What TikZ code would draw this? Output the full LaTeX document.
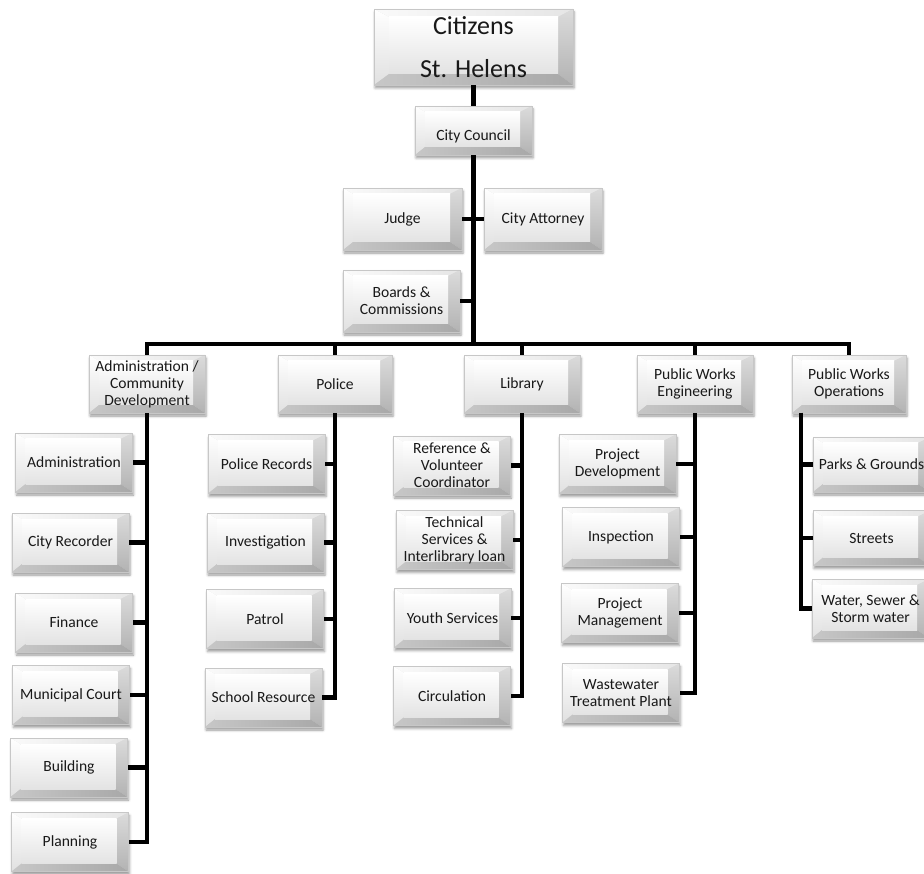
\documentclass[tikz,border=0pt]{standalone}
\usepackage{fontspec}
\setmainfont{Carlito}
\usetikzlibrary{shadows.blur}

\tikzset{
  bev sizes/.code n args={4}{\def\bvL{#1}\def\bvT{#2}\def\bvR{#3}\def\bvB{#4}},
  bevelbox/.style={
    rectangle, inner sep=0pt, align=center,
    minimum width=117pt, minimum height=59pt,
    font=\fontsize{15.6}{17}\selectfont, text=black!90,
    bev sizes={10pt}{6pt}{12pt}{8pt},
    draw=black!22, line width=0.4pt, fill=black!15,
    blur shadow={shadow xshift=1pt, shadow yshift=-3pt,
                 shadow blur radius=2.5pt, shadow opacity=40},
    path picture={
      \coordinate (pA) at (path picture bounding box.north west);
      \coordinate (pB) at (path picture bounding box.north east);
      \coordinate (pC) at (path picture bounding box.south east);
      \coordinate (pD) at (path picture bounding box.south west);
      \coordinate (qA) at ([xshift=\bvL,yshift=-\bvT]pA);
      \coordinate (qB) at ([xshift=-\bvR,yshift=-\bvT]pB);
      \coordinate (qC) at ([xshift=-\bvR,yshift=\bvB]pC);
      \coordinate (qD) at ([xshift=\bvL,yshift=\bvB]pD);
      % top bevel
      \shade[left color=black!2, right color=black!10] (pA) -- (pB) -- (qB) -- (qA) -- cycle;
      % left bevel
      \shade[top color=white, bottom color=black!12] (pA) -- (qA) -- (qD) -- (pD) -- cycle;
      % right bevel
      \shade[top color=black!14, bottom color=black!30] (pB) -- (pC) -- (qC) -- (qB) -- cycle;
      % bottom bevel
      \shade[left color=black!22, right color=black!34] (pD) -- (qD) -- (qC) -- (pC) -- cycle;
      % face
      \shade[top color=white, bottom color=black!11] (qA) rectangle (qC);
    }
  },
  bigbox/.style={bevelbox, bev sizes={15pt}{8pt}{15pt}{11pt},
    font=\fontsize{26}{43}\selectfont},
  orgline/.style={line width=4.4pt, black},
  mainline/.style={line width=5pt, black},
}

\begin{document}
\begin{tikzpicture}[x=1pt,y=-1pt]
\useasboundingbox (0,0) rectangle (924,874);

% top of the chart
\node[bigbox, minimum width=199pt, minimum height=76pt] (citizens) at (473.5,47) {Citizens\\St. Helens};
\node[bevelbox, minimum height=49pt] (council) at (473.5,130.5) {\raisebox{-10pt}[0pt][0pt]{City Council}};
\node[bevelbox, minimum width=119pt, minimum height=62pt] (judge) at (402.5,219) {Judge};
\node[bevelbox, minimum width=118pt, minimum height=62pt] (attorney) at (543,219) {City Attorney};
\node[bevelbox, minimum height=62pt] (boards) at (401.5,301) {Boards \&\\Commissions};

% departments
\node[bevelbox, minimum width=116pt, minimum height=58pt] (admin) at (147,384) {Administration /\\Community\\Development};
\node[bevelbox, minimum width=114pt, minimum height=58pt] (police) at (335,384) {Police};
\node[bevelbox, minimum width=116pt, minimum height=58pt] (library) at (522,384) {Library};
\node[bevelbox, minimum width=116pt, minimum height=58pt] (pwe) at (695,384) {Public Works\\Engineering};
\node[bevelbox, minimum width=114pt, minimum height=58pt] (pwo) at (849,384) {Public Works\\Operations};

% administration / community development
\node[bevelbox] (a1) at (74,462.5) {Administration};
\node[bevelbox] (a2) at (70.5,542.5) {City Recorder};
\node[bevelbox] (a3) at (74,622.5) {Finance};
\node[bevelbox] (a4) at (71,695) {Municipal Court};
\node[bevelbox] (a5) at (69,767.5) {Building};
\node[bevelbox] (a6) at (70,842) {Planning};

% police
\node[bevelbox] (p1) at (266.5,464) {Police Records};
\node[bevelbox] (p2) at (265.5,542.5) {Investigation};
\node[bevelbox] (p3) at (265,619) {Patrol};
\node[bevelbox] (p4) at (263.5,697.5) {School Resource};

% library
\node[bevelbox] (l1) at (452,465.5) {Reference \&\\Volunteer\\Coordinator};
\node[bevelbox] (l2) at (454.5,540) {Technical\\Services \&\\Interlibrary loan};
\node[bevelbox] (l3) at (452.5,618) {Youth Services};
\node[bevelbox] (l4) at (452,696) {Circulation};

% public works engineering
\node[bevelbox] (e1) at (617.5,464) {Project\\Development};
\node[bevelbox] (e2) at (621,537) {Inspection};
\node[bevelbox] (e3) at (620,613) {Project\\Management};
\node[bevelbox] (e4) at (621,693) {Wastewater\\Treatment Plant};

% public works operations
\node[bevelbox, minimum height=55pt] (o1) at (871.5,464.5) {Parks \& Grounds};
\node[bevelbox, minimum height=55pt] (o2) at (871.5,538) {Streets};
\node[bevelbox] (o3) at (870.5,608.5) {Water, Sewer \&\\Storm water};

% connectors
\coordinate (hub) at (473.5,344);
\coordinate (opsdrop) at (801,413);
\draw[mainline] (citizens.south) -- (council.north);
\draw[mainline] (council.south) -- (hub);
\draw[orgline] (judge.east) -- (judge.east -| hub);
\draw[orgline] (attorney.west) -- (attorney.west -| hub);
\draw[orgline] (boards.east) -- (boards.east -| hub);
\foreach \d in {admin,police,library,pwe,pwo}
  \draw[orgline] (hub) -| (\d.north);
\foreach \c in {a1,a2,a3,a4,a5,a6}
  \draw[orgline] (admin.south) |- (\c.east);
\foreach \c in {p1,p2,p3,p4}
  \draw[orgline] (police.south) |- (\c.east);
\foreach \c in {l1,l2,l3,l4}
  \draw[orgline] (library.south) |- (\c.east);
\foreach \c in {e1,e2,e3,e4}
  \draw[orgline] (pwe.south) |- (\c.east);
\foreach \c in {o1,o2,o3}
  \draw[orgline] (opsdrop) |- (\c.west);
\end{tikzpicture}
\end{document}
